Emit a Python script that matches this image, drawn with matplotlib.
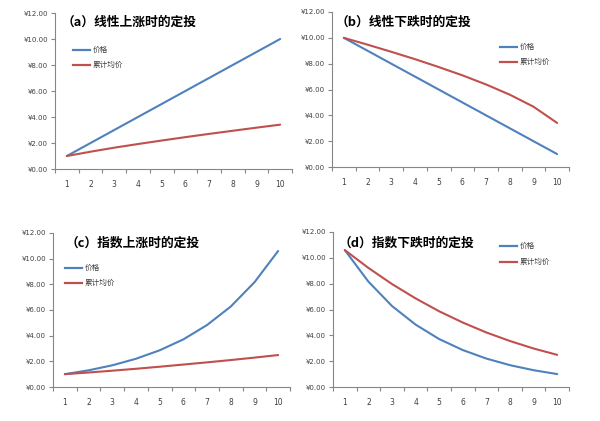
import matplotlib
matplotlib.use("Agg")
import matplotlib.pyplot as plt
from matplotlib.ticker import FuncFormatter, FixedLocator

plt.rcParams['font.family'] = ['Noto Sans CJK SC', 'DejaVu Sans']

periods = [1, 2, 3, 4, 5, 6, 7, 8, 9, 10]
yticks = [0, 2, 4, 6, 8, 10, 12]

price_a = [1, 2, 3, 4, 5, 6, 7, 8, 9, 10]
avg_a = [1.00, 1.33, 1.64, 1.92, 2.19, 2.45, 2.70, 2.94, 3.18, 3.41]
price_b = [10, 9, 8, 7, 6, 5, 4, 3, 2, 1]
avg_b = [10.00, 9.47, 8.92, 8.35, 7.74, 7.10, 6.39, 5.60, 4.67, 3.41]
price_c = [1.00, 1.30, 1.69, 2.20, 2.86, 3.71, 4.83, 6.27, 8.16, 10.60]
avg_c = [1.00, 1.13, 1.27, 1.42, 1.58, 1.75, 1.92, 2.10, 2.29, 2.49]
price_d = [10.60, 8.16, 6.27, 4.83, 3.71, 2.86, 2.20, 1.69, 1.30, 1.00]
avg_d = [10.60, 9.22, 7.97, 6.86, 5.86, 4.99, 4.22, 3.56, 2.98, 2.49]

titles = ["（a）线性上涨时的定投", "（b）线性下跌时的定投",
          "（c）指数上涨时的定投", "（d）指数下跌时的定投"]
series_names = ["价格", "累计均价"]

BLUE = "#4F81BD"
RED = "#C0504D"
AXC = "#868686"
TXT = "#404040"

fig = plt.figure(figsize=(6.0, 4.21), dpi=100)
W, H = 600, 421

def rect(x0, x1, ytop, ybot):
    return [x0 / W, 1 - ybot / H, (x1 - x0) / W, (ybot - ytop) / H]

panels = [
    (rect(55, 292, 13, 169), price_a, avg_a, titles[0], (62, 22), (73, 50, 65)),
    (rect(332, 569, 12, 167), price_b, avg_b, titles[1], (336, 22), (500, 47, 62)),
    (rect(53, 290, 233, 387), price_c, avg_c, titles[2], (66, 243), (65, 268, 283)),
    (rect(333, 569, 232, 387), price_d, avg_d, titles[3], (339, 243), (500, 246, 262)),
]

for r, pr, av, title, (tx, ty), (lx, ly1, ly2) in panels:
    ax = fig.add_axes(r)
    ax.plot(periods, pr, color=BLUE, lw=1.5, solid_capstyle='round')
    ax.plot(periods, av, color=RED, lw=1.5, solid_capstyle='round')
    ax.set_xlim(0.5, 10.5)
    ax.set_ylim(0, 12)
    ax.set_yticks(yticks)
    ax.yaxis.set_major_formatter(FuncFormatter(lambda v, p: "¥%.2f" % v))
    ax.set_xticks(periods)
    ax.set_xticklabels([str(p) for p in periods])
    ax.xaxis.set_minor_locator(FixedLocator([i + 0.5 for i in range(0, 11)]))
    for s in ['top', 'right']:
        ax.spines[s].set_visible(False)
    for s in ['left', 'bottom']:
        ax.spines[s].set_color(AXC)
        ax.spines[s].set_linewidth(0.8)
    ax.tick_params(axis='y', which='major', length=3, width=0.8, color=AXC,
                   labelsize=5, labelcolor=TXT, pad=2)
    ax.tick_params(axis='x', which='major', length=0, labelsize=5.5,
                   labelcolor=TXT, pad=8)
    ax.tick_params(axis='x', which='minor', length=3, width=0.8, color=AXC)
    for t in ax.get_yticklabels() + ax.get_xticklabels():
        t.set_family(['DejaVu Sans'])

    fig.text(tx / W, 1 - ty / H, title, fontsize=9.2, fontweight='bold',
             ha='left', va='center', color='black')
    for yy, col, name in [(ly1, BLUE, series_names[0]), (ly2, RED, series_names[1])]:
        fig.add_artist(plt.Line2D([lx / W, (lx + 17) / W], [1 - yy / H, 1 - yy / H],
                                  color=col, lw=1.6, transform=fig.transFigure))
        fig.text((lx + 20) / W, 1 - yy / H, name, fontsize=5.5, ha='left',
                 va='center', color=TXT)

fig.savefig("out.png", dpi=100, facecolor='white')
